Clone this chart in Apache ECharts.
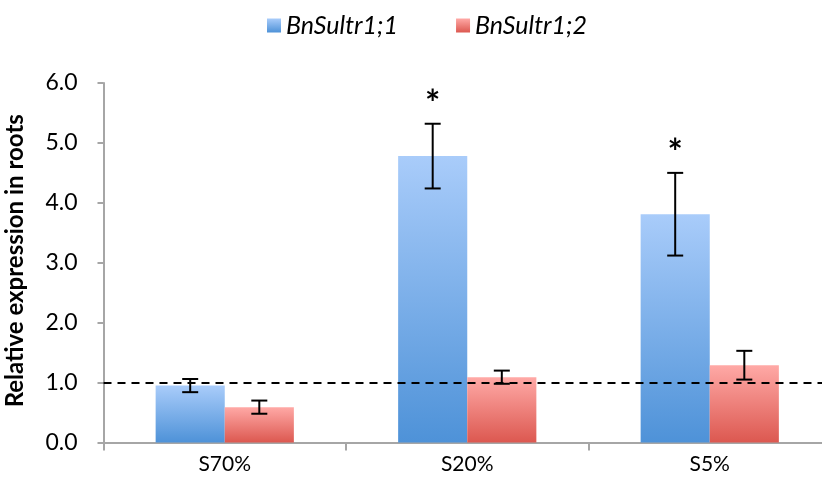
<!DOCTYPE html>
<html>
<head>
<meta charset="utf-8">
<script src="https://cdn.jsdelivr.net/npm/echarts@6/dist/echarts.min.js"></script>
<style>html,body{margin:0;padding:0;background:#fff}#c{width:822px;height:489px}</style>
</head>
<body>
<div id="c"></div>
<script>
var categories = ['S70%', 'S20%', 'S5%'];
var seriesNames = ['BnSultr1;1', 'BnSultr1;2'];
var sultr11 = [0.95, 4.78, 3.81];
var sultr11Err = [0.11, 0.54, 0.69];
var sultr12 = [0.59, 1.09, 1.29];
var sultr12Err = [0.11, 0.11, 0.24];
var sultr11Sig = [false, true, true];
var sultr12Sig = [false, false, false];
var yTicks = [0, 1, 2, 3, 4, 5, 6];
var refLine = 1.0;

var FONT = 'Lato, "Open Sans", sans-serif';
var CAT_GAP = 0.43;

function grad(top, bottom) {
  return new echarts.graphic.LinearGradient(0, 0, 0, 1, [
    {offset: 0, color: top}, {offset: 1, color: bottom}
  ]);
}

function errSeries(values, errs, sigs, side) {
  var data = values.map(function (v, i) { return [i, v, errs[i], sigs[i] ? 1 : 0]; });
  return {
    type: 'custom',
    z: 10,
    silent: true,
    data: data,
    renderItem: function (params, api) {
      var idx = api.value(0), v = api.value(1), e = api.value(2), sig = api.value(3);
      var band = api.size([1, 0])[0];
      var bw = band * (1 - CAT_GAP) / 2;
      var c = api.coord([idx, v]);
      var x = c[0] + side * bw / 2;
      var yt = api.coord([idx, v + e])[1];
      var yb = api.coord([idx, v - e])[1];
      var cap = 8;
      var st = {stroke: '#000', lineWidth: 2};
      var children = [
        {type: 'line', shape: {x1: x, y1: yt, x2: x, y2: yb}, style: st},
        {type: 'line', shape: {x1: x - cap, y1: yt, x2: x + cap, y2: yt}, style: st},
        {type: 'line', shape: {x1: x - cap, y1: yb, x2: x + cap, y2: yb}, style: st}
      ];
      if (sig) {
        children.push({type: 'text', style: {text: '*', x: x, y: yt - 19, align: 'center', verticalAlign: 'middle', fontSize: 36, fontWeight: 'bold', fontFamily: FONT, fill: '#000'}});
      }
      return {type: 'group', children: children};
    }
  };
}

var chart = echarts.init(document.getElementById('c'), null, {renderer: 'canvas'});
chart.setOption({
  animation: false,
  legend: {
    data: seriesNames,
    left: 262, top: 8,
    itemWidth: 14, itemHeight: 14, itemGap: 58,
    icon: 'rect',
    textStyle: {fontFamily: FONT, fontStyle: 'italic', fontSize: 25, color: '#000'}
  },
  grid: {left: 103.5, right: -9, top: 83, bottom: 46.5, containLabel: false, outerBoundsMode: 'none'},
  xAxis: {
    type: 'category',
    data: categories,
    axisLine: {lineStyle: {color: '#a6a6a6', width: 2}},
    axisTick: {show: true, length: 8, lineStyle: {color: '#a6a6a6', width: 2}},
    axisLabel: {fontFamily: FONT, fontSize: 21, color: '#000', margin: 11}
  },
  yAxis: {
    type: 'value',
    min: yTicks[0], max: yTicks[yTicks.length - 1], interval: 1,
    name: 'Relative expression in roots',
    nameLocation: 'middle', nameGap: 76,
    nameTextStyle: {fontFamily: FONT, fontSize: 24, fontWeight: 'bold', color: '#000', padding: [0, 0, 0, 4]},
    axisLine: {show: true, lineStyle: {color: '#a6a6a6', width: 2}},
    axisTick: {show: true, length: 6, lineStyle: {color: '#a6a6a6', width: 2}},
    splitLine: {show: false},
    axisLabel: {fontFamily: FONT, fontSize: 23, color: '#000', margin: 26,
      formatter: function (v) { return v.toFixed(1); }}
  },
  series: [
    {
      name: seriesNames[0], type: 'bar', data: sultr11,
      barGap: '0%', barCategoryGap: (CAT_GAP * 100) + '%',
      itemStyle: {color: grad('#a9ccfa', '#4e92d8')},
      markLine: {
        silent: true, symbol: 'none', label: {show: false},
        lineStyle: {color: '#000', type: [8, 6], width: 2},
        data: [{yAxis: refLine}]
      }
    },
    {
      name: seriesNames[1], type: 'bar', data: sultr12,
      itemStyle: {color: grad('#ffa9a6', '#dc5850')}
    },
    errSeries(sultr11, sultr11Err, sultr11Sig, -1),
    errSeries(sultr12, sultr12Err, sultr12Sig, 1)
  ]
});
</script>
</body>
</html>
